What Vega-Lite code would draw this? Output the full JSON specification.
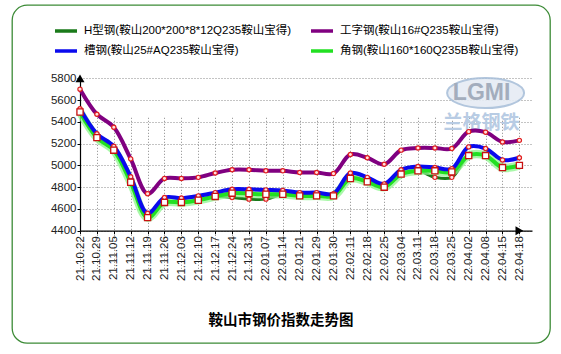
{
  "$schema": "https://vega.github.io/schema/vega-lite/v6.json",
  "width": 538,
  "height": 338,
  "autosize": {"type": "none"},
  "padding": {"left": 12, "top": 5, "right": 11, "bottom": 11},
  "background": "white",
  "view": {"stroke": "#3d8b37", "strokeWidth": 1.3, "cornerRadius": 15, "fill": "white"},
  "config": {"font": "Liberation Sans, Noto Sans CJK SC"},
  "title": {"text": "鞍山市钢价指数走势图", "orient": "bottom", "offset": -29, "fontSize": 14.5, "fontWeight": "bold", "font": "Noto Sans CJK SC", "anchor": "middle", "frame": "group", "color": "black"},
  "datasets": {
    "prices": [
      {"date": "21.10.22", "series": "H型钢(鞍山200*200*8*12Q235鞍山宝得)", "price": 5490},
      {"date": "21.10.29", "series": "H型钢(鞍山200*200*8*12Q235鞍山宝得)", "price": 5255},
      {"date": "21.11.05", "series": "H型钢(鞍山200*200*8*12Q235鞍山宝得)", "price": 5140},
      {"date": "21.11.12", "series": "H型钢(鞍山200*200*8*12Q235鞍山宝得)", "price": 4845},
      {"date": "21.11.19", "series": "H型钢(鞍山200*200*8*12Q235鞍山宝得)", "price": 4520},
      {"date": "21.11.26", "series": "H型钢(鞍山200*200*8*12Q235鞍山宝得)", "price": 4660},
      {"date": "21.12.03", "series": "H型钢(鞍山200*200*8*12Q235鞍山宝得)", "price": 4660},
      {"date": "21.12.10", "series": "H型钢(鞍山200*200*8*12Q235鞍山宝得)", "price": 4680},
      {"date": "21.12.17", "series": "H型钢(鞍山200*200*8*12Q235鞍山宝得)", "price": 4715},
      {"date": "21.12.24", "series": "H型钢(鞍山200*200*8*12Q235鞍山宝得)", "price": 4705},
      {"date": "21.12.31", "series": "H型钢(鞍山200*200*8*12Q235鞍山宝得)", "price": 4690},
      {"date": "22.01.07", "series": "H型钢(鞍山200*200*8*12Q235鞍山宝得)", "price": 4690},
      {"date": "22.01.14", "series": "H型钢(鞍山200*200*8*12Q235鞍山宝得)", "price": 4735},
      {"date": "22.01.21", "series": "H型钢(鞍山200*200*8*12Q235鞍山宝得)", "price": 4720},
      {"date": "22.01.29", "series": "H型钢(鞍山200*200*8*12Q235鞍山宝得)", "price": 4720},
      {"date": "22.01.30", "series": "H型钢(鞍山200*200*8*12Q235鞍山宝得)", "price": 4720},
      {"date": "22.02.11", "series": "H型钢(鞍山200*200*8*12Q235鞍山宝得)", "price": 4880},
      {"date": "22.02.18", "series": "H型钢(鞍山200*200*8*12Q235鞍山宝得)", "price": 4850},
      {"date": "22.02.25", "series": "H型钢(鞍山200*200*8*12Q235鞍山宝得)", "price": 4800},
      {"date": "22.03.04", "series": "H型钢(鞍山200*200*8*12Q235鞍山宝得)", "price": 4920},
      {"date": "22.03.11", "series": "H型钢(鞍山200*200*8*12Q235鞍山宝得)", "price": 4950},
      {"date": "22.03.18", "series": "H型钢(鞍山200*200*8*12Q235鞍山宝得)", "price": 4890},
      {"date": "22.03.25", "series": "H型钢(鞍山200*200*8*12Q235鞍山宝得)", "price": 4890},
      {"date": "22.04.02", "series": "H型钢(鞍山200*200*8*12Q235鞍山宝得)", "price": 5090},
      {"date": "22.04.08", "series": "H型钢(鞍山200*200*8*12Q235鞍山宝得)", "price": 5090},
      {"date": "22.04.15", "series": "H型钢(鞍山200*200*8*12Q235鞍山宝得)", "price": 4980},
      {"date": "22.04.18", "series": "H型钢(鞍山200*200*8*12Q235鞍山宝得)", "price": 5000},
      {"date": "21.10.22", "series": "槽钢(鞍山25#AQ235鞍山宝得)", "price": 5520},
      {"date": "21.10.29", "series": "槽钢(鞍山25#AQ235鞍山宝得)", "price": 5290},
      {"date": "21.11.05", "series": "槽钢(鞍山25#AQ235鞍山宝得)", "price": 5175},
      {"date": "21.11.12", "series": "槽钢(鞍山25#AQ235鞍山宝得)", "price": 4895},
      {"date": "21.11.19", "series": "槽钢(鞍山25#AQ235鞍山宝得)", "price": 4560},
      {"date": "21.11.26", "series": "槽钢(鞍山25#AQ235鞍山宝得)", "price": 4705},
      {"date": "21.12.03", "series": "槽钢(鞍山25#AQ235鞍山宝得)", "price": 4700},
      {"date": "21.12.10", "series": "槽钢(鞍山25#AQ235鞍山宝得)", "price": 4720},
      {"date": "21.12.17", "series": "槽钢(鞍山25#AQ235鞍山宝得)", "price": 4750},
      {"date": "21.12.24", "series": "槽钢(鞍山25#AQ235鞍山宝得)", "price": 4780},
      {"date": "21.12.31", "series": "槽钢(鞍山25#AQ235鞍山宝得)", "price": 4780},
      {"date": "22.01.07", "series": "槽钢(鞍山25#AQ235鞍山宝得)", "price": 4775},
      {"date": "22.01.14", "series": "槽钢(鞍山25#AQ235鞍山宝得)", "price": 4770},
      {"date": "22.01.21", "series": "槽钢(鞍山25#AQ235鞍山宝得)", "price": 4750},
      {"date": "22.01.29", "series": "槽钢(鞍山25#AQ235鞍山宝得)", "price": 4750},
      {"date": "22.01.30", "series": "槽钢(鞍山25#AQ235鞍山宝得)", "price": 4740},
      {"date": "22.02.11", "series": "槽钢(鞍山25#AQ235鞍山宝得)", "price": 4930},
      {"date": "22.02.18", "series": "槽钢(鞍山25#AQ235鞍山宝得)", "price": 4890},
      {"date": "22.02.25", "series": "槽钢(鞍山25#AQ235鞍山宝得)", "price": 4830},
      {"date": "22.03.04", "series": "槽钢(鞍山25#AQ235鞍山宝得)", "price": 4960},
      {"date": "22.03.11", "series": "槽钢(鞍山25#AQ235鞍山宝得)", "price": 4990},
      {"date": "22.03.18", "series": "槽钢(鞍山25#AQ235鞍山宝得)", "price": 4980},
      {"date": "22.03.25", "series": "槽钢(鞍山25#AQ235鞍山宝得)", "price": 4970},
      {"date": "22.04.02", "series": "槽钢(鞍山25#AQ235鞍山宝得)", "price": 5170},
      {"date": "22.04.08", "series": "槽钢(鞍山25#AQ235鞍山宝得)", "price": 5155},
      {"date": "22.04.15", "series": "槽钢(鞍山25#AQ235鞍山宝得)", "price": 5050},
      {"date": "22.04.18", "series": "槽钢(鞍山25#AQ235鞍山宝得)", "price": 5070},
      {"date": "21.10.22", "series": "工字钢(鞍山16#Q235鞍山宝得)", "price": 5700},
      {"date": "21.10.29", "series": "工字钢(鞍山16#Q235鞍山宝得)", "price": 5470},
      {"date": "21.11.05", "series": "工字钢(鞍山16#Q235鞍山宝得)", "price": 5350},
      {"date": "21.11.12", "series": "工字钢(鞍山16#Q235鞍山宝得)", "price": 5060},
      {"date": "21.11.19", "series": "工字钢(鞍山16#Q235鞍山宝得)", "price": 4740},
      {"date": "21.11.26", "series": "工字钢(鞍山16#Q235鞍山宝得)", "price": 4880},
      {"date": "21.12.03", "series": "工字钢(鞍山16#Q235鞍山宝得)", "price": 4880},
      {"date": "21.12.10", "series": "工字钢(鞍山16#Q235鞍山宝得)", "price": 4890},
      {"date": "21.12.17", "series": "工字钢(鞍山16#Q235鞍山宝得)", "price": 4930},
      {"date": "21.12.24", "series": "工字钢(鞍山16#Q235鞍山宝得)", "price": 4960},
      {"date": "21.12.31", "series": "工字钢(鞍山16#Q235鞍山宝得)", "price": 4960},
      {"date": "22.01.07", "series": "工字钢(鞍山16#Q235鞍山宝得)", "price": 4950},
      {"date": "22.01.14", "series": "工字钢(鞍山16#Q235鞍山宝得)", "price": 4950},
      {"date": "22.01.21", "series": "工字钢(鞍山16#Q235鞍山宝得)", "price": 4935},
      {"date": "22.01.29", "series": "工字钢(鞍山16#Q235鞍山宝得)", "price": 4935},
      {"date": "22.01.30", "series": "工字钢(鞍山16#Q235鞍山宝得)", "price": 4925},
      {"date": "22.02.11", "series": "工字钢(鞍山16#Q235鞍山宝得)", "price": 5100},
      {"date": "22.02.18", "series": "工字钢(鞍山16#Q235鞍山宝得)", "price": 5070},
      {"date": "22.02.25", "series": "工字钢(鞍山16#Q235鞍山宝得)", "price": 5010},
      {"date": "22.03.04", "series": "工字钢(鞍山16#Q235鞍山宝得)", "price": 5140},
      {"date": "22.03.11", "series": "工字钢(鞍山16#Q235鞍山宝得)", "price": 5160},
      {"date": "22.03.18", "series": "工字钢(鞍山16#Q235鞍山宝得)", "price": 5160},
      {"date": "22.03.25", "series": "工字钢(鞍山16#Q235鞍山宝得)", "price": 5155},
      {"date": "22.04.02", "series": "工字钢(鞍山16#Q235鞍山宝得)", "price": 5310},
      {"date": "22.04.08", "series": "工字钢(鞍山16#Q235鞍山宝得)", "price": 5305},
      {"date": "22.04.15", "series": "工字钢(鞍山16#Q235鞍山宝得)", "price": 5215},
      {"date": "22.04.18", "series": "工字钢(鞍山16#Q235鞍山宝得)", "price": 5230},
      {"date": "21.10.22", "series": "角钢(鞍山160*160Q235B鞍山宝得)", "price": 5490},
      {"date": "21.10.29", "series": "角钢(鞍山160*160Q235B鞍山宝得)", "price": 5255},
      {"date": "21.11.05", "series": "角钢(鞍山160*160Q235B鞍山宝得)", "price": 5140},
      {"date": "21.11.12", "series": "角钢(鞍山160*160Q235B鞍山宝得)", "price": 4845},
      {"date": "21.11.19", "series": "角钢(鞍山160*160Q235B鞍山宝得)", "price": 4520},
      {"date": "21.11.26", "series": "角钢(鞍山160*160Q235B鞍山宝得)", "price": 4660},
      {"date": "21.12.03", "series": "角钢(鞍山160*160Q235B鞍山宝得)", "price": 4660},
      {"date": "21.12.10", "series": "角钢(鞍山160*160Q235B鞍山宝得)", "price": 4680},
      {"date": "21.12.17", "series": "角钢(鞍山160*160Q235B鞍山宝得)", "price": 4715},
      {"date": "21.12.24", "series": "角钢(鞍山160*160Q235B鞍山宝得)", "price": 4745},
      {"date": "21.12.31", "series": "角钢(鞍山160*160Q235B鞍山宝得)", "price": 4740},
      {"date": "22.01.07", "series": "角钢(鞍山160*160Q235B鞍山宝得)", "price": 4735},
      {"date": "22.01.14", "series": "角钢(鞍山160*160Q235B鞍山宝得)", "price": 4735},
      {"date": "22.01.21", "series": "角钢(鞍山160*160Q235B鞍山宝得)", "price": 4720},
      {"date": "22.01.29", "series": "角钢(鞍山160*160Q235B鞍山宝得)", "price": 4720},
      {"date": "22.01.30", "series": "角钢(鞍山160*160Q235B鞍山宝得)", "price": 4720},
      {"date": "22.02.11", "series": "角钢(鞍山160*160Q235B鞍山宝得)", "price": 4880},
      {"date": "22.02.18", "series": "角钢(鞍山160*160Q235B鞍山宝得)", "price": 4850},
      {"date": "22.02.25", "series": "角钢(鞍山160*160Q235B鞍山宝得)", "price": 4800},
      {"date": "22.03.04", "series": "角钢(鞍山160*160Q235B鞍山宝得)", "price": 4920},
      {"date": "22.03.11", "series": "角钢(鞍山160*160Q235B鞍山宝得)", "price": 4950},
      {"date": "22.03.18", "series": "角钢(鞍山160*160Q235B鞍山宝得)", "price": 4950},
      {"date": "22.03.25", "series": "角钢(鞍山160*160Q235B鞍山宝得)", "price": 4940},
      {"date": "22.04.02", "series": "角钢(鞍山160*160Q235B鞍山宝得)", "price": 5090},
      {"date": "22.04.08", "series": "角钢(鞍山160*160Q235B鞍山宝得)", "price": 5090},
      {"date": "22.04.15", "series": "角钢(鞍山160*160Q235B鞍山宝得)", "price": 4980},
      {"date": "22.04.18", "series": "角钢(鞍山160*160Q235B鞍山宝得)", "price": 5000}
    ],
    "logo": [{"date": "22.04.08", "price": 5665, "label": "LGMI"}],
    "brand": [{"date": "22.04.08", "price": 5390, "label": "兰格钢铁"}],
    "yarrow": [{"date": "21.10.22", "price": 5800}],
    "xarrow": [{"date": "22.04.18", "price": 4400}]
  },
  "data": {"name": "prices"},
  "encoding": {
    "x": {
      "field": "date", "type": "ordinal", "sort": null,
      "scale": {
        "type": "point", "range": [68, 520], "padding": 0.373, "align": 0,
        "domain": ["21.10.22", "21.10.29", "21.11.05", "21.11.12", "21.11.19", "21.11.26", "21.12.03", "21.12.10", "21.12.17", "21.12.24", "21.12.31", "22.01.07", "22.01.14", "22.01.21", "22.01.29", "22.01.30", "22.02.11", "22.02.18", "22.02.25", "22.03.04", "22.03.11", "22.03.18", "22.03.25", "22.04.02", "22.04.08", "22.04.15", "22.04.18"]
      },
      "axis": {"orient": "bottom", "offset": -112.3, "title": null, "labelAngle": -90, "labelFontSize": 11.5, "labelColor": "#222", "labelFont": "Liberation Sans", "tickSize": 3, "tickColor": "black", "domainColor": "black", "domainWidth": 1.2, "labelPadding": 2, "grid": true, "gridDash": [1, 2], "gridColor": "#888", "labelOverlap": false, "labelBound": false}
    },
    "y": {
      "field": "price", "type": "quantitative",
      "scale": {"domain": [4400, 5800], "range": [225.7, 73.3], "nice": false, "zero": false},
      "axis": {"orient": "left", "offset": -68, "title": null, "format": "d", "values": [4400, 4600, 4800, 5000, 5200, 5400, 5600, 5800], "labelFontSize": 11.5, "labelColor": "#222", "labelFont": "Liberation Sans", "tickSize": 3, "tickColor": "black", "domainColor": "black", "domainWidth": 1.2, "labelPadding": 1, "grid": true, "gridDash": [1, 2], "gridColor": "#888"}
    }
  },
  "layer": [
    {
      "data": {"name": "logo"},
      "mark": {"type": "point", "shape": "M-1,0A1,0.39,0,1,0,1,0A1,0.39,0,1,0,-1,0Z", "size": 5929, "filled": true, "fill": "#e6ecf4", "stroke": "#aac0da", "strokeWidth": 2, "opacity": 0.9, "dx": -4}
    },
    {
      "data": {"name": "logo"},
      "mark": {"type": "text", "fontSize": 23, "fontWeight": "bold", "font": "Liberation Sans", "color": "#a3adbd", "dx": -4, "baseline": "middle"},
      "encoding": {"text": {"field": "label"}}
    },
    {
      "data": {"name": "brand"},
      "mark": {"type": "text", "fontSize": 19, "fontWeight": "bold", "font": "Noto Sans CJK SC", "color": "#b8cce4", "dx": -4, "baseline": "middle"},
      "encoding": {"text": {"field": "label"}}
    },
    {
      "transform": [{"filter": {"field": "series", "equal": "H型钢(鞍山200*200*8*12Q235鞍山宝得)"}}],
      "mark": {"type": "line", "interpolate": "catmull-rom", "strokeWidth": 3},
      "encoding": {
        "color": {
          "field": "series", "type": "nominal",
          "scale": {
            "domain": ["H型钢(鞍山200*200*8*12Q235鞍山宝得)", "槽钢(鞍山25#AQ235鞍山宝得)", "工字钢(鞍山16#Q235鞍山宝得)", "角钢(鞍山160*160Q235B鞍山宝得)"],
            "range": ["#1a7a1a", "#0a0aee", "#800080", "#22e022"]
          },
          "legend": {"orient": "none", "legendX": 41, "legendY": 13, "columns": 2, "columnPadding": 12, "rowPadding": -11, "symbolType": "stroke", "symbolSize": 484, "symbolStrokeWidth": 3.5, "labelFontSize": 11.5, "labelColor": "black", "labelLimit": 0, "labelOffset": 5, "title": null}
        }
      }
    },
    {
      "transform": [{"filter": {"field": "series", "equal": "角钢(鞍山160*160Q235B鞍山宝得)"}}],
      "mark": {"type": "line", "interpolate": "catmull-rom", "strokeWidth": 8.5, "color": "#8cf58c", "opacity": 0.75}
    },
    {
      "transform": [{"filter": {"field": "series", "equal": "角钢(鞍山160*160Q235B鞍山宝得)"}}],
      "mark": {"type": "line", "interpolate": "catmull-rom", "strokeWidth": 4},
      "encoding": {"color": {"field": "series", "type": "nominal"}}
    },
    {
      "transform": [{"filter": {"field": "series", "equal": "槽钢(鞍山25#AQ235鞍山宝得)"}}],
      "mark": {"type": "line", "interpolate": "catmull-rom", "strokeWidth": 4},
      "encoding": {"color": {"field": "series", "type": "nominal"}}
    },
    {
      "transform": [{"filter": {"field": "series", "equal": "工字钢(鞍山16#Q235鞍山宝得)"}}],
      "mark": {"type": "line", "interpolate": "catmull-rom", "strokeWidth": 4},
      "encoding": {"color": {"field": "series", "type": "nominal"}}
    },
    {
      "transform": [{"filter": {"field": "series", "oneOf": ["H型钢(鞍山200*200*8*12Q235鞍山宝得)", "槽钢(鞍山25#AQ235鞍山宝得)", "工字钢(鞍山16#Q235鞍山宝得)"]}}],
      "mark": {"type": "point", "shape": "circle", "size": 18, "filled": false, "stroke": "#e02020", "strokeWidth": 1.2, "fill": "#ffe0e0", "fillOpacity": 1}
    },
    {
      "transform": [{"filter": {"field": "series", "equal": "角钢(鞍山160*160Q235B鞍山宝得)"}}],
      "mark": {"type": "point", "shape": "square", "size": 38, "filled": false, "stroke": "#c81010", "strokeWidth": 1.3, "fill": "white", "fillOpacity": 1}
    },
    {
      "data": {"name": "yarrow"},
      "mark": {"type": "point", "shape": "triangle-up", "size": 81, "filled": true, "color": "black", "opacity": 1, "dy": -5}
    },
    {
      "data": {"name": "xarrow"},
      "mark": {"type": "point", "shape": "triangle-right", "size": 81, "filled": true, "color": "black", "opacity": 1, "dx": 17}
    }
  ]
}
